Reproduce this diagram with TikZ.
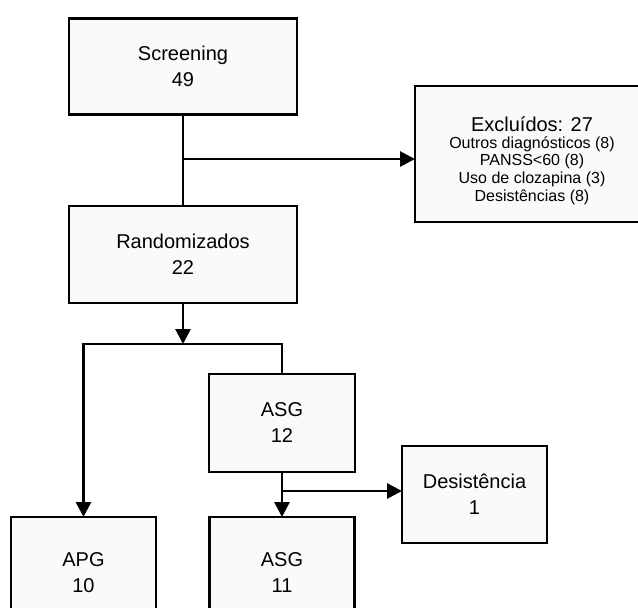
\documentclass[tikz,border=0pt]{standalone}
\usepackage{fontspec}
\setmainfont{Liberation Sans}
\usetikzlibrary{arrows.meta}
\definecolor{boxfill}{RGB}{250,250,250}
\tikzset{
  box/.style={draw=black, fill=boxfill, line width=2.8pt, rectangle, inner sep=0pt, outer sep=0pt,
    align=center, font=\fontsize{20}{26}\selectfont},
  small/.style={font=\fontsize{16}{18}\selectfont, inner sep=0pt, anchor=base},
  conn/.style={draw=black, line width=2.8pt},
  arr/.style={conn, -{Triangle[length=15pt,width=15pt]}}
}
\begin{document}
\begin{tikzpicture}[x=1pt,y=-1pt]
\useasboundingbox (0,0) rectangle (638,608);
\clip (0,0) rectangle (638,608);
\fill[white] (0,0) rectangle (638,608);
\node[box, minimum width=228pt, minimum height=96pt, yshift=-1.5pt] (scr) at (183,65) {Screening\\49};
\node[box, minimum width=228pt, minimum height=97pt] (rand) at (183,254.5) {Randomizados\\22};
\node[box, minimum width=234pt, minimum height=136pt] (excl) at (532,154) {};
\node[font=\fontsize{20}{20}\selectfont, inner sep=0pt, anchor=base] (exclt) at (532,131.5) {Excluídos: 27};
\node[small] (excl1) at (532,148) {Outros diagnósticos (8)};
\node[small] (excl2) at (532,165) {PANSS<60 (8)};
\node[small] (excl3) at (532,183) {Uso de clozapina (3)};
\node[small] (excl4) at (532,201) {Desistências (8)};
\node[box, minimum width=146pt, minimum height=98pt] (asg12) at (282,423) {ASG\\12};
\node[box, minimum width=145pt, minimum height=111pt] (apg) at (83.5,572.5) {APG\\10};
\node[box, minimum width=145pt, minimum height=111pt] (asg11) at (282,572.5) {ASG\\11};
\node[box, minimum width=145pt, minimum height=97pt] (des) at (474.5,494.5) {Desistência\\1};
\coordinate (b1) at (183,159);
\coordinate (split) at (183,344);
\coordinate (b2) at (282,491);
\draw[conn] (scr.south) -- (rand.north);
\draw[arr] (b1) -- (b1 -| excl.west);
\draw[arr] (rand.south) -- (split);
\draw[arr] (asg12.north) -- (asg12.north |- split) -- (apg.north |- split) -- (apg.north);
\draw[arr] (asg12.south) -- (asg11.north);
\draw[arr] (b2) -- (b2 -| des.west);
\end{tikzpicture}
\end{document}
